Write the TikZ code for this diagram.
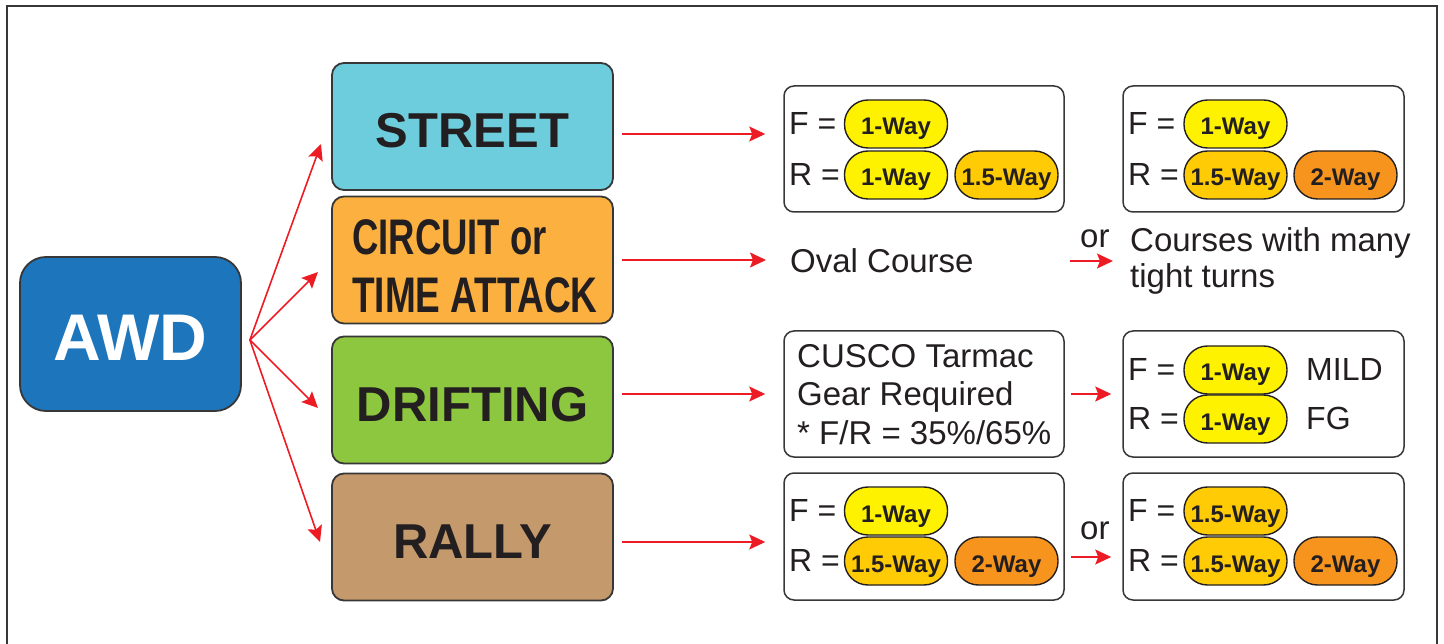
\documentclass[tikz,border=0pt]{standalone}
\usepackage{fontspec}
\setmainfont{Liberation Sans}
\usetikzlibrary{arrows.meta,calc}
\definecolor{awdblue}{RGB}{29,117,188}
\definecolor{streetc}{RGB}{110,205,221}
\definecolor{circuitc}{RGB}{251,176,64}
\definecolor{driftc}{RGB}{141,198,63}
\definecolor{rallyc}{RGB}{196,154,108}
\definecolor{pyellow}{RGB}{255,242,0}
\definecolor{pgold}{RGB}{255,203,5}
\definecolor{porange}{RGB}{247,148,29}
\definecolor{ared}{RGB}{237,28,36}
\definecolor{dk}{RGB}{35,31,32}
\definecolor{edge}{RGB}{55,55,55}
\tikzset{
  catbox/.style={draw=edge, line width=1.8pt, rounded corners=12pt, minimum width=281pt, minimum height=127pt, text=dk, text height=43pt, text depth=0pt, font=\fontsize{49}{52}\selectfont\bfseries},
  rbox/.style={draw=edge, line width=1.5pt, rounded corners=10pt, fill=white, minimum width=280pt, minimum height=126pt},
  pill/.style={draw=dk, line width=1.4pt, rounded corners=23.5pt, minimum width=103pt, minimum height=48pt, inner sep=0pt, text=dk, text height=27pt, text depth=5pt, font=\fontsize{24}{24}\selectfont\bfseries},
  lbl/.style={anchor=west, inner sep=0pt, text=dk, font=\fontsize{33}{36}\selectfont},
  fr/.style={anchor=west, inner sep=0pt, text=dk, font=\fontsize{32}{36}\selectfont},
  arr/.style={draw=ared, line width=1.6pt, -{Stealth[length=16pt,width=15pt,inset=3pt]}}
}
\begin{document}
\begin{tikzpicture}[x=1pt,y=-1pt]
\useasboundingbox (0,0) rectangle (1444,644);
\draw[edge, line width=2pt] (7,650) -- (7,6) -- (1437,6) -- (1437,650);

% AWD
\node[draw=edge, line width=1.8pt, rounded corners=26pt, fill=awdblue, minimum width=221pt, minimum height=154pt, text=white, text height=52.5pt, text depth=0pt, font=\fontsize{66}{66}\selectfont\bfseries] (awd) at (130.5,334) {AWD};
\coordinate (hub) at ($(awd.east)+(8,6)$);

% categories
\node[catbox, fill=streetc] (street) at (472.5,126.5) {STREET};
\node[catbox, fill=circuitc] (circuit) at (472.5,260) {};
\node[anchor=north west, inner sep=0pt, text=dk, font=\fontsize{50}{58}\selectfont\bfseries, align=left] (ctext) at (352,219) {\scalebox{0.73}[1]{CIRCUIT or}\\[0pt]\scalebox{0.74}[1]{TIME ATTACK}};
\node[catbox, fill=driftc] (drift) at (472.5,400) {DRIFTING};
\node[catbox, fill=rallyc] (rally) at (472.5,537) {RALLY};

\coordinate (t1) at (321,144);
\coordinate (t2) at (318,272);
\coordinate (t3) at (318,408);
\coordinate (t4) at (320,542);
\foreach \t in {t1,t2,t3,t4} \draw[arr] (hub) -- (\t);

% right boxes
\node[rbox] (sl) at (924,149) {};
\node[rbox, minimum width=281pt] (sr) at (1263.5,149) {};
\node[rbox] (dl) at (924,394) {};
\node[rbox, minimum width=281pt] (dr) at (1263.5,394) {};
\node[rbox, minimum height=127pt] (rl) at (924,536.5) {};
\node[rbox, minimum width=281pt, minimum height=127pt] (rr) at (1263.5,536.5) {};

% horizontal arrows
\draw[arr] ($(street.east)+(8,7.5)$) -- ($(sl.west)+(-18,-15)$);
\node[lbl] (oval) at (790,261) {Oval Course};
\draw[arr] ($(circuit.east)+(8,0)$) -- ($(oval.west)+(-24,-1)$);
\draw[arr] ($(drift.east)+(8,-6)$) -- ($(dl.west)+(-18,0)$);
\draw[arr] ($(rally.east)+(8,5)$) -- ($(rl.west)+(-18,5.5)$);

% or arrows
\node[lbl] (or1) at (1080,239) {or};
\node[lbl, align=left, anchor=north west] (courses) at (1130,227) {Courses with many\\tight turns};
\coordinate (c1) at (1070,261);
\draw[arr] (c1) -- ($(c1 -| courses.west)+(-17,0)$);
\draw[arr] ($(dl.east)+(6,0)$) -- ($(dr.west)+(-11,0)$);
\node[lbl] (or2) at (1080,531) {or};
\draw[arr] ($(rl.east)+(6,20.5)$) -- ($(rr.west)+(-11,20.5)$);

% street left
\node[fr] (f1) at (789,123) {F =};
\node[fr] (r1) at (789,174) {R =};
\node[pill, fill=pyellow] (p11) at (896,124) {1-Way};
\node[pill, fill=pyellow] (p12) at (896,175) {1-Way};
\node[pill, fill=pgold] (p13) at (1006.5,175) {1.5-Way};
% street right
\node[fr] (f2) at (1128,123) {F =};
\node[fr] (r2) at (1128,174) {R =};
\node[pill, fill=pyellow] (p21) at (1235.5,124) {1-Way};
\node[pill, fill=pgold] (p22) at (1235.5,175) {1.5-Way};
\node[pill, fill=porange] (p23) at (1345.5,175) {2-Way};

% drifting left
\node[lbl, anchor=north west, align=left, font=\fontsize{33}{38.5}\selectfont] (cusco) at (797,344) {CUSCO Tarmac\\Gear Required\\* F/R = 35\%/65\%};
% drifting right
\node[fr] (f3) at (1128,369) {F =};
\node[fr] (r3) at (1128,418) {R =};
\node[pill, fill=pyellow] (p31) at (1235.5,370) {1-Way};
\node[pill, fill=pyellow] (p32) at (1235.5,419) {1-Way};
\node[fr] (mild) at (1306,369) {MILD};
\node[fr] (fg) at (1306,418) {FG};

% rally left
\node[fr] (f4) at (789,510) {F =};
\node[fr] (r4) at (789,560) {R =};
\node[pill, fill=pyellow] (p41) at (896,511) {1-Way};
\node[pill, fill=pgold] (p42) at (896,561) {1.5-Way};
\node[pill, fill=porange] (p43) at (1006.5,561) {2-Way};
% rally right
\node[fr] (f5) at (1128,510) {F =};
\node[fr] (r5) at (1128,560) {R =};
\node[pill, fill=pgold] (p51) at (1235.5,511) {1.5-Way};
\node[pill, fill=pgold] (p52) at (1235.5,561) {1.5-Way};
\node[pill, fill=porange] (p53) at (1345.5,561) {2-Way};
\end{tikzpicture}
\end{document}
